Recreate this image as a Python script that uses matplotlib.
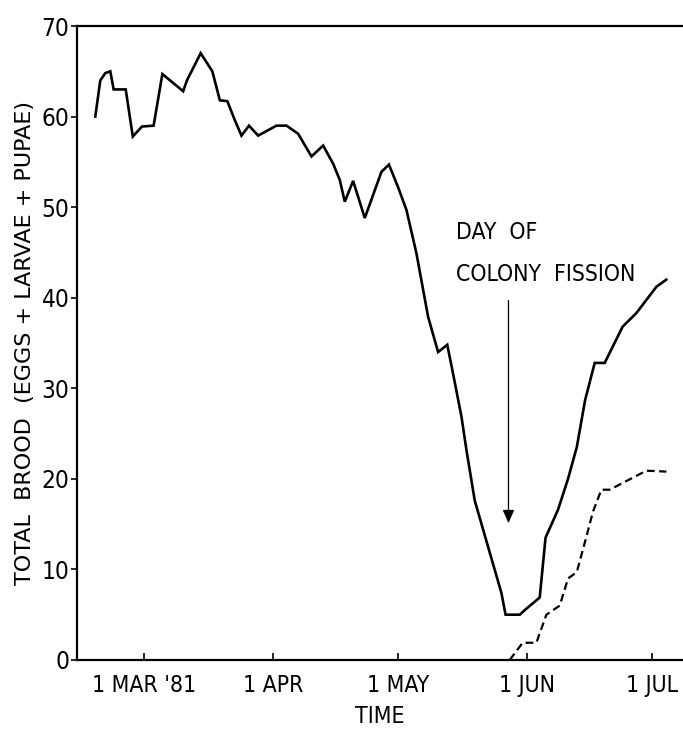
import matplotlib
matplotlib.use("Agg")
import matplotlib.pyplot as plt

plt.rcParams["font.family"] = ["DejaVu Sans"]
plt.rcParams["font.stretch"] = "condensed"

# days since 1 Mar 1981
solid_days = [-11.6, -10.4, -9.2, -8.0, -7.2, -4.3, -2.6, -0.4, 2.4, 4.5, 9.5, 10.4, 13.7, 16.5,
              18.3, 20.1, 21.9, 23.5, 25.3, 27.5, 31.9, 34.3, 37.1, 40.3, 43.1, 45.5, 47.1, 48.3,
              50.3, 53.1, 57.1, 58.9, 61.1, 63.1, 65.5, 66.7, 68.3, 70.7, 72.9, 74.3, 76.3, 77.5,
              79.5, 82.7, 85.9, 86.9, 90.3, 91.5, 95.1, 96.5, 99.5, 101.9, 104.0, 106.0, 108.3,
              110.7, 115.0, 118.3, 123.1, 125.5]
solid_brood = [60, 64, 64.8, 65, 63, 63, 57.8, 58.9, 59, 64.7, 62.8, 64, 67, 65,
               61.8, 61.7, 59.6, 57.9, 59, 57.9, 59, 59, 58.1, 55.6, 56.8, 54.8, 53, 50.6,
               52.9, 48.8, 53.9, 54.7, 52.2, 49.7, 44.9, 41.9, 37.9, 34.0, 34.8, 31.6, 26.9, 23.2,
               17.6, 12.5, 7.4, 5, 5, 5.5, 6.9, 13.5, 16.6, 20, 23.5, 28.7, 32.8,
               32.8, 36.8, 38.3, 41.2, 42]

dashed_days = [87.9, 91.0, 94.3, 96.7, 99.9, 101.9, 104.0, 106.3, 107.9, 109.9, 111.9, 120.7, 125.5]
dashed_brood = [0, 1.9, 1.9, 5, 6, 9, 9.7, 13.6, 16.4, 18.8, 18.8, 20.9, 20.8]

tick_days = [0, 31, 61, 92, 122]
tick_labels = ["1 MAR '81", "1 APR", "1 MAY", "1 JUN", "1 JUL"]
y_ticks = [0, 10, 20, 30, 40, 50, 60, 70]

fission_day = 87.6

fig = plt.figure(figsize=(6.83, 7.29), dpi=100)
ax = fig.add_axes([0.1127, 0.0947, 0.8873, 0.8696])

ax.plot(solid_days, solid_brood, color="black", lw=1.9, solid_joinstyle="miter")
ax.plot(dashed_days, dashed_brood, color="black", lw=1.6, linestyle=(0, (3.5, 2)))

ax.annotate("", xy=(fission_day, 14.8), xytext=(fission_day, 40),
            arrowprops=dict(arrowstyle="-|>,head_length=0.8,head_width=0.35", color="black", lw=0.9))
ax.text(75, 47.2, "DAY  OF", fontsize=16.5, va="center", ha="left")
ax.text(75, 42.6, "COLONY  FISSION", fontsize=16.5, va="center", ha="left")

ax.set_xlim(-16, 129.5)
ax.set_ylim(0, 70)
ax.set_xticks(tick_days)
ax.set_xticklabels(tick_labels, fontsize=16.5)
ax.set_yticks(y_ticks)
ax.set_yticklabels([str(v) for v in y_ticks], fontsize=17.5)
ax.tick_params(axis="x", direction="in", length=5, width=1.2, pad=10)
ax.tick_params(axis="y", direction="out", length=4, width=1.2, pad=1.5)

for s in ["left", "bottom", "top"]:
    ax.spines[s].set_linewidth(1.6)
ax.spines["right"].set_visible(False)

ax.set_xlabel("TIME", fontsize=16.5, labelpad=6)
ax.set_ylabel("TOTAL  BROOD  (EGGS + LARVAE + PUPAE)", fontsize=16, fontstretch="normal", labelpad=5)

fig.savefig("out.png", dpi=100)
